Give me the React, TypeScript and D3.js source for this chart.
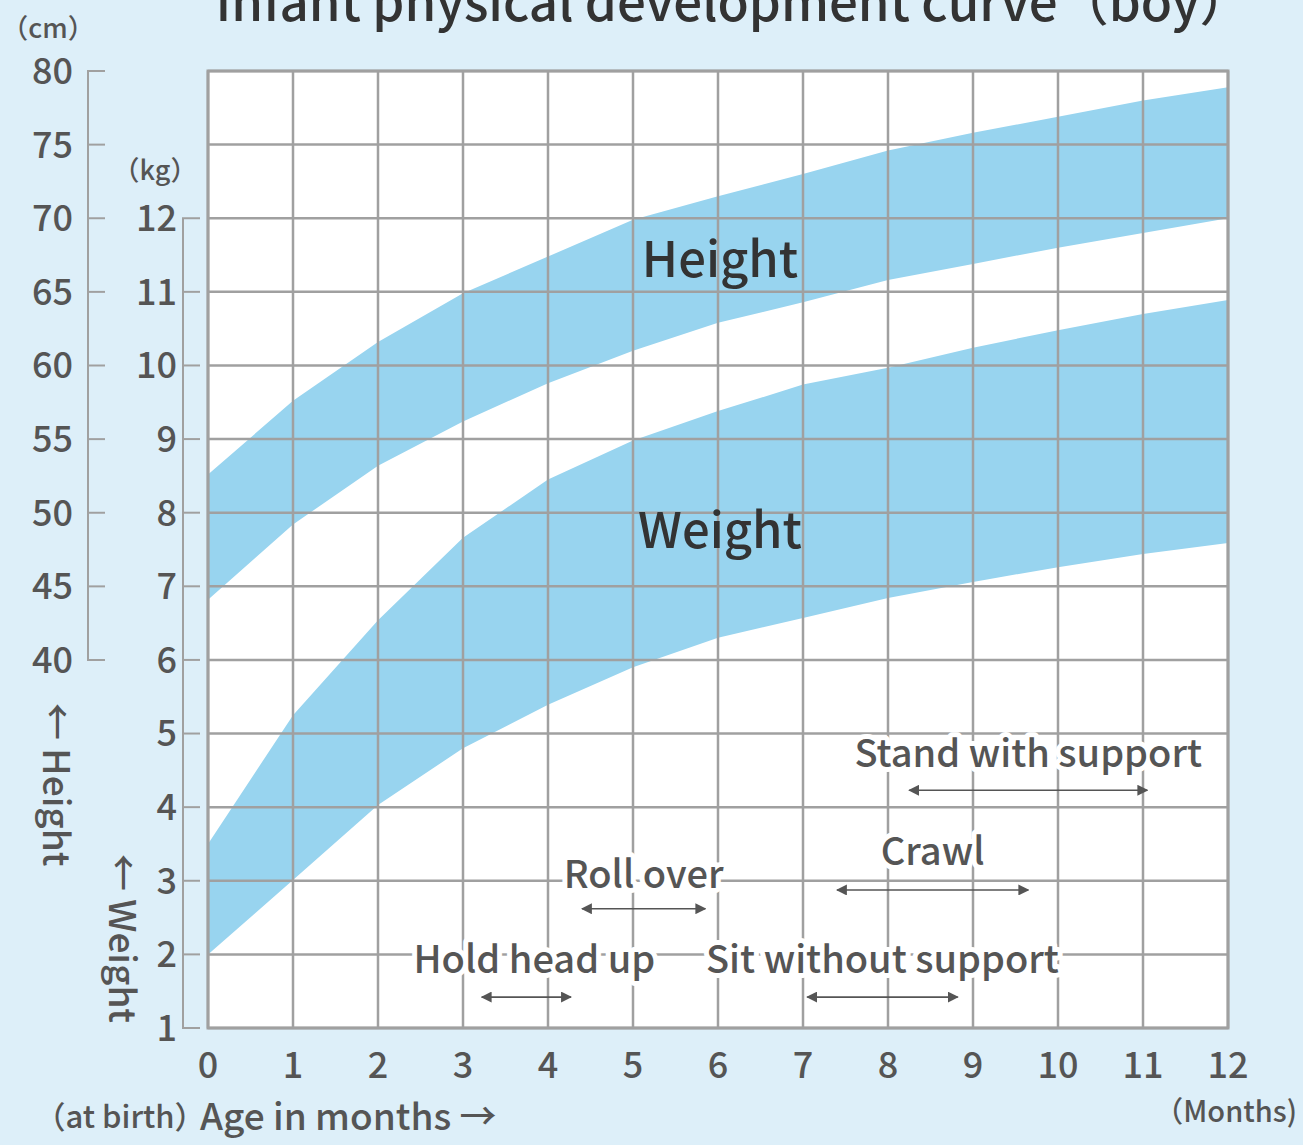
import React from "react";
import * as d3 from "d3";

const months = [0, 1, 2, 3, 4, 5, 6, 7, 8, 9, 10, 11, 12];
const heightUpper = [52.6, 57.6, 61.6, 64.9, 67.4, 69.9, 71.5, 73.0, 74.6, 75.8, 76.9, 78.0, 78.9];
const heightLower = [44.1, 49.2, 53.2, 56.2, 58.8, 61.0, 62.9, 64.3, 65.8, 66.9, 68.0, 69.0, 70.0];
const weightUpper = [3.5, 5.25, 6.54, 7.66, 8.45, 8.98, 9.38, 9.74, 9.97, 10.24, 10.48, 10.7, 10.89];
const weightLower = [2.0, 3.01, 4.03, 4.8, 5.39, 5.9, 6.3, 6.57, 6.84, 7.06, 7.26, 7.44, 7.59];

const heightTicks = [40, 45, 50, 55, 60, 65, 70, 75, 80];
const weightTicks = [1, 2, 3, 4, 5, 6, 7, 8, 9, 10, 11, 12];

const milestoneNames = ["Hold head up", "Roll over", "Sit without support", "Crawl", "Stand with support"];
const milestoneStart = [3.22, 4.4, 7.05, 7.4, 8.25];
const milestoneEnd = [4.27, 5.85, 8.82, 9.65, 11.05];

const title = "Infant physical development curve（boy）";

// layout (weight-scale units for arrow rows, pixel offsets for labels)
const milestoneLevels = [1.42, 2.62, 1.42, 2.875, 4.23];
const labelDy = [-24, -21, -24, -25, -23];
const labelDx = [8, 0, 0, 0, 0];

const FONT = "'Noto Sans CJK JP', 'Noto Sans', sans-serif";
const TXT = "#555";
const GRID = "#a0a0a0";
const BAND = "#98d4ef";
const BG = "#ddeff9";

export default function App() {
  const x = d3.scaleLinear().domain([0, 12]).range([208, 1228]);
  const yW = d3.scaleLinear().domain([1, 14]).range([1028, 71]);
  const yH = d3.scaleLinear().domain([40, 80]).range([660, 71]);

  const hData = months.map((m, i) => ({ m, lo: heightLower[i], hi: heightUpper[i] }));
  const wData = months.map((m, i) => ({ m, lo: weightLower[i], hi: weightUpper[i] }));
  const areaH = d3.area<any>().x((d) => x(d.m)).y0((d) => yH(d.lo)).y1((d) => yH(d.hi));
  const areaW = d3.area<any>().x((d) => x(d.m)).y0((d) => yW(d.lo)).y1((d) => yW(d.hi));

  const gridY = d3.range(1, 15);

  return (
    <svg
      width={1303}
      height={1145}
      style={{ position: "absolute", left: 0, top: 0, fontFamily: FONT }}
    >
      <defs>
        <marker id="ah" viewBox="0 0 10 10" refX="9" refY="5" markerWidth="11" markerHeight="11" markerUnits="userSpaceOnUse" orient="auto-start-reverse">
          <path d="M0,0 L10,5 L0,10 z" fill="#555" />
        </marker>
      </defs>
      <rect width={1303} height={1145} fill={BG} />
      <rect x={x(0)} y={yW(14)} width={x(12) - x(0)} height={yW(1) - yW(14)} fill="#fff" />

      <path d={areaH(hData) || ""} fill={BAND} />
      <path d={areaW(wData) || ""} fill={BAND} />

      {/* grid */}
      {months.map((m) => (
        <line key={"gx" + m} x1={x(m)} x2={x(m)} y1={yW(14)} y2={yW(1)} stroke={GRID} strokeWidth={2.5} />
      ))}
      {gridY.map((v) => (
        <line key={"gy" + v} x1={x(0)} x2={x(12)} y1={yW(v)} y2={yW(v)} stroke={GRID} strokeWidth={2.5} />
      ))}
      <rect x={x(0)} y={yW(14)} width={x(12) - x(0)} height={yW(1) - yW(14)} fill="none" stroke={GRID} strokeWidth={3} />

      {/* height axis bracket */}
      <line x1={88} x2={88} y1={yH(80)} y2={yH(40)} stroke={GRID} strokeWidth={2} />
      {heightTicks.map((t) => (
        <g key={"ht" + t}>
          <line x1={87} x2={105} y1={yH(t)} y2={yH(t)} stroke={GRID} strokeWidth={2} />
          <text x={73} y={yH(t)} dy="0.36em" textAnchor="end" fontSize={36} fontWeight={500} fill={TXT}>{t}</text>
        </g>
      ))}
      {/* weight axis bracket */}
      <line x1={183} x2={183} y1={yW(12)} y2={yW(1)} stroke={GRID} strokeWidth={2} />
      {weightTicks.map((t) => (
        <g key={"wt" + t}>
          <line x1={182} x2={200} y1={yW(t)} y2={yW(t)} stroke={GRID} strokeWidth={2} />
          <text x={177} y={yW(t)} dy="0.36em" textAnchor="end" fontSize={36} fontWeight={500} fill={TXT}>{t}</text>
        </g>
      ))}
      {/* month labels */}
      {months.map((m) => (
        <text key={"mx" + m} x={x(m)} y={1078} textAnchor="middle" fontSize={36} fontWeight={500} fill={TXT}>{m}</text>
      ))}

      {/* unit labels */}
      <text x={48} y={38} textAnchor="middle" fontSize={27} fontWeight={500} fill={TXT}>（cm）</text>
      <text x={155} y={180} textAnchor="middle" fontSize={27} fontWeight={500} fill={TXT}>（kg）</text>
      <text x={1297} y={1122} textAnchor="end" fontSize={29} fontWeight={500} fill={TXT}>（Months)</text>
      <text x={120} y={1128} textAnchor="middle" fontSize={31} fontWeight={500} fill={TXT}>（at birth）</text>
      <text x={200} y={1130} fontSize={37} fontWeight={500} fill={TXT}>Age in months →</text>

      {/* vertical axis titles */}
      <text transform={`translate(43,703) rotate(90)`} fontSize={37} fontWeight={500} fill={TXT}>← Height</text>
      <text transform={`translate(109,854) rotate(90)`} fontSize={37} fontWeight={500} fill={TXT}>← Weight</text>

      {/* band labels */}
      <text x={720} y={277} textAnchor="middle" fontSize={49} fontWeight={500} fill="#333">Height</text>
      <text x={720} y={548} textAnchor="middle" fontSize={49} fontWeight={500} fill="#333">Weight</text>

      {/* milestones */}
      {milestoneNames.map((n, i) => {
        const y = yW(milestoneLevels[i]);
        const x1 = x(milestoneStart[i]);
        const x2 = x(milestoneEnd[i]);
        return (
          <line key={"ms" + i} x1={x1} x2={x2} y1={y} y2={y} stroke="#555" strokeWidth={1.6}
            markerStart="url(#ah)" markerEnd="url(#ah)" />
        );
      })}
      {milestoneNames.map((n, i) => {
        const y = yW(milestoneLevels[i]);
        const cx = (x(milestoneStart[i]) + x(milestoneEnd[i])) / 2 + labelDx[i];
        return (
          <text key={"ml" + i} x={cx} y={y + labelDy[i]} textAnchor="middle" fontSize={38} fontWeight={500} fill={TXT}
            stroke="#fff" strokeWidth={10} paintOrder="stroke" strokeLinejoin="round">{n}</text>
        );
      })}

      {/* title */}
      <text x={733} y={21} textAnchor="middle" fontSize={51} fontWeight={500} fill="#333">{title}</text>
    </svg>
  );
}
